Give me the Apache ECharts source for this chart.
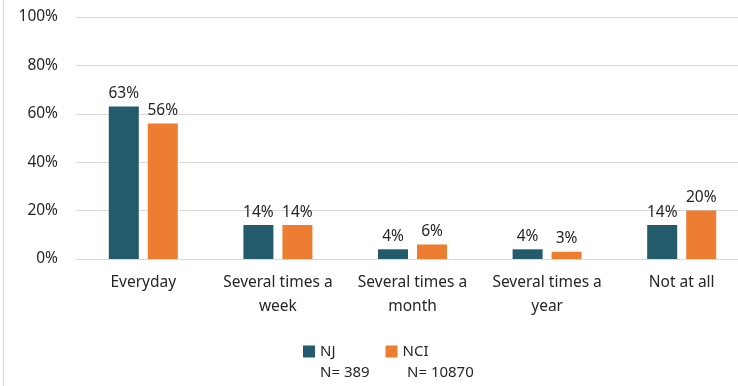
<!DOCTYPE html>
<html>
<head>
<meta charset="utf-8">
<script src="https://cdn.jsdelivr.net/npm/echarts@6/dist/echarts.min.js"></script>
<style>
  html, body { margin: 0; padding: 0; background: #fff; }
  #chart { height: 386px; box-sizing: border-box; border-left: 1px solid #d9d9d9; margin-left: 3px; width: 735px; }
</style>
</head>
<body>
<div id="chart"></div>
<script>
var categories = ['Everyday', 'Several times a\nweek', 'Several times a\nmonth', 'Several times a\nyear', 'Not at all'];
var njValues = [63, 14, 4, 4, 14];
var nciValues = [56, 14, 6, 3, 20];
var yTicks = [0, 20, 40, 60, 80, 100];

var font = 'Noto Sans';
var txt = '#262626';
var chart = echarts.init(document.getElementById('chart'));

var option = {
    animation: false,
    textStyle: { fontFamily: font },
    grid: { left: 72, right: -11, top: 17, bottom: 127, outerBoundsMode: 'none' },
    legend: {
        data: ['NJ', 'NCI'],
        left: 294,
        top: 339,
        itemWidth: 12,
        itemHeight: 12,
        itemGap: 50,
        icon: 'rect',
        textStyle: { fontSize: 15, color: txt, fontFamily: font }
    },
    graphic: [
        { type: 'text', left: 316, top: 365, style: { text: 'N= 389', fontSize: 15, fill: txt, fontFamily: font } },
        { type: 'text', left: 403, top: 365, style: { text: 'N= 10870', fontSize: 15, fill: txt, fontFamily: font } }
    ],
    xAxis: {
        type: 'category',
        data: categories,
        axisTick: { show: false },
        axisLine: { lineStyle: { color: '#d9d9d9' } },
        axisLabel: { color: txt, fontSize: 15.5, lineHeight: 24, margin: 12, interval: 0 }
    },
    yAxis: {
        type: 'value',
        min: 0,
        max: 100,
        interval: 20,
        axisLabel: { formatter: '{value}%', color: txt, fontSize: 15.5, margin: 18 },
        splitLine: { lineStyle: { color: '#d9d9d9' } }
    },
    series: [
        {
            name: 'NJ',
            type: 'bar',
            data: njValues,
            barWidth: 30,
            barGap: '30%',
            itemStyle: { color: '#235b6a' },
            label: { show: true, position: 'top', formatter: '{c}%', color: txt, fontSize: 15.5, distance: 5 }
        },
        {
            name: 'NCI',
            type: 'bar',
            data: nciValues,
            barWidth: 30,
            itemStyle: { color: '#ed7d31' },
            label: { show: true, position: 'top', formatter: '{c}%', color: txt, fontSize: 15.5, distance: 5 }
        }
    ]
};
chart.setOption(option);
</script>
</body>
</html>
